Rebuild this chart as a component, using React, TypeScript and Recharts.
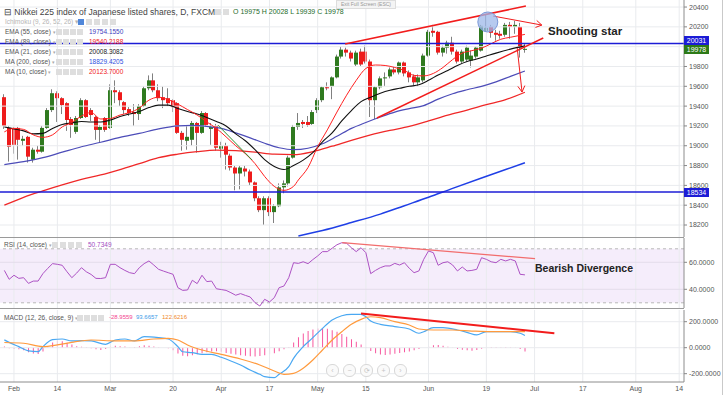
import React from 'react'
import { ComposedChart, Bar, Line, XAxis, YAxis, ReferenceLine, ReferenceArea, ReferenceDot } from 'recharts'

// bar index 0 = Feb 1, one slot per weekday
const FIRST_BAR = -2

const opens = [
  19490, 19180, 19180, 19180, 19050, 19090, 18860, 18960, 18940, 19180,
  19360, 19530, 19480, 19430, 19270, 19140, 19280, 19460, 19360, 19290,
  19160, 19280, 19180, 19560, 19540, 19440, 19370, 19340, 19320, 19400,
  19580, 19660, 19560, 19490, 19480, 19460, 19430, 19130, 19050, 19060,
  19230, 19130, 19330, 19170, 19200, 18970, 19000, 18900, 18780, 18720,
  18770, 18740, 18630, 18470, 18350, 18470, 18330, 18390, 18580, 18620,
  18880, 19190, 19240, 19240, 19220, 19360, 19460, 19590, 19600, 19690,
  19900, 19970, 19940, 19820, 19950, 19950, 19850, 19460, 19590, 19680,
  19700, 19770, 19740, 19840, 19740, 19700, 19640, 19660, 19910, 20160,
  20150, 19940, 19990, 20040, 19950, 19850, 19870, 19860, 19900, 19960,
  20160, 20200, 20140, 20130, 20120, 20220, 20200, 20200, 19975,
]
const highs = [
  19520, 19200, 19190, 19190, 19100, 19100, 18980, 19000, 19200, 19380,
  19570, 19550, 19490, 19440, 19290, 19300, 19480, 19470, 19380, 19300,
  19210, 19290, 19620, 19660, 19560, 19450, 19390, 19420, 19420, 19600,
  19710, 19730, 19620, 19600, 19580, 19470, 19440, 19150, 19200, 19250,
  19240, 19350, 19340, 19230, 19220, 19040, 19030, 18920, 18800, 18800,
  18800, 18760, 18640, 18490, 18490, 18490, 18410, 18620, 18650, 18900,
  19210, 19330, 19260, 19300, 19360, 19480, 19600, 19640, 19700, 19920,
  20000, 19990, 19960, 19960, 19980, 20010, 19870, 19600, 19700, 19740,
  19790, 19800, 19850, 19850, 19760, 19720, 19720, 19930, 20170, 20220,
  20160, 20010, 20060, 20100, 19970, 19970, 20010, 19960, 20000, 20220,
  20320, 20220, 20170, 20160, 20240, 20250, 20260, 20240, 20028,
]
const lows = [
  19170, 18840, 18920, 18860, 19000, 18830, 18830, 18920, 18930, 19170,
  19340, 19240, 19320, 19150, 19080, 19120, 19270, 19280, 19250, 19060,
  19030, 19140, 19170, 19430, 19400, 19320, 19300, 19200, 19260, 19390,
  19560, 19540, 19450, 19380, 19400, 19340, 19120, 18950, 18960, 19000,
  18930, 19120, 19190, 19010, 18950, 18880, 18760, 18750, 18550, 18560,
  18690, 18600, 18440, 18330, 18200, 18290, 18220, 18380, 18520, 18590,
  18870, 19160, 19180, 19190, 19210, 19330, 19440, 19560, 19470, 19680,
  19880, 19900, 19850, 19800, 19800, 19830, 19290, 19270, 19570, 19600,
  19680, 19720, 19720, 19700, 19640, 19600, 19600, 19640, 19900, 20100,
  19920, 19900, 19930, 19920, 19830, 19830, 19850, 19790, 19880, 19950,
  20150, 20090, 20060, 20080, 20100, 20080, 20130, 19890, 19939,
]
const closes = [
  19200, 18990, 19010, 19060, 19070, 18890, 18960, 18940, 19180, 19360,
  19530, 19480, 19410, 19260, 19210, 19280, 19460, 19290, 19310, 19160,
  19190, 19160, 19560, 19540, 19460, 19360, 19330, 19320, 19400, 19580,
  19660, 19560, 19480, 19460, 19430, 19390, 19130, 19060, 19090, 19230,
  19130, 19330, 19210, 19190, 18980, 19000, 18910, 18780, 18720, 18780,
  18740, 18630, 18470, 18350, 18470, 18330, 18390, 18580, 18620, 18880,
  19190, 19230, 19220, 19210, 19340, 19460, 19590, 19580, 19690, 19900,
  19970, 19940, 19880, 19940, 19820, 19850, 19460, 19590, 19680, 19690,
  19770, 19740, 19840, 19730, 19690, 19640, 19690, 19910, 20150, 20140,
  19940, 19990, 20040, 19950, 19850, 19950, 19990, 19910, 19990, 20210,
  20190, 20140, 20120, 20110, 20220, 20200, 20220, 19990, 19978,
]

const rsiValues = [
  54, 47.4, 50.4, 48.1, 48.6, 44.4, 46.1, 46.1, 51.6, 55.5,
  59, 58.5, 57.8, 53, 48.6, 52, 56, 53, 51, 48.1,
  48, 48.6, 58.5, 58.5, 56, 54, 52.3, 51.6, 56, 59,
  61, 58, 54.8, 53.5, 52.3, 51.1, 41.2, 39.2, 39.5, 46.7,
  44.2, 50.4, 45.7, 46.1, 40.4, 39.8, 39.2, 37.5, 35.6, 36.8,
  35.5, 34.3, 30.1, 27.6, 32.6, 30.6, 33.8, 41.2, 42.4, 48.6,
  59.7, 59.2, 60.4, 59, 62, 64.7, 67.9, 67.9, 70.4, 73,
  74.5, 74.1, 70.8, 67.9, 70.8, 67.1, 51.6, 54, 56, 57.3,
  57.3, 59.2, 58, 59.7, 55.6, 52.3, 53.6, 62.2, 68.4, 67.1,
  57.8, 59.7, 60.4, 58, 53.6, 56.5, 53.6, 54, 54.8, 63.4,
  62.2, 60.4, 59.7, 62.2, 61, 62.2, 61, 51.1, 50.7,
]

const macdHist = [
  10, -5, -8, -12, -20, -35, -45, -48, -30, 5,
  40, 55, 50, 38, 25, 12, 8, 4, -5, -12,
  -18, -10, 10, 15, 12, 10, 2, 5, 12, 18,
  15, 10, 4, 0, -5, -20, -45, -62, -65, -58,
  -50, -42, -36, -30, -28, -32, -40, -46, -52, -58,
  -62, -66, -68, -64, -58, -50, -42, -28, -12, 5,
  40, 80, 110, 128, 140, 148, 150, 145, 135, 122,
  105, 85, 65, 45, 25, 5, -25, -42, -52, -56,
  -52, -46, -40, -35, -30, -20, -10, 0, 10, 18,
  20, 15, 8, -2, -10, -16, -20, -24, -18, -8,
  3, 5, 5, 4, 5, 4, 2, -10, -29,
]

// [bar, value]
const ma10Points = [
  [-2, 19140], [0, 19175], [2, 19165], [4, 19110], [6, 19085], [8, 19110], [10, 19190], [12, 19235],
  [14, 19300], [16, 19335], [18, 19270], [20, 19275], [22, 19310], [24, 19335], [26, 19380], [28, 19460],
  [30, 19490], [32, 19465], [34, 19420], [36, 19365], [38, 19310], [40, 19240], [42, 19175], [44, 19090],
  [46, 19000], [48, 18920], [50, 18820], [52, 18690], [54, 18590], [56, 18550], [58, 18590], [59, 18655],
  [61, 18780], [63, 18990], [65, 19160], [67, 19340], [69, 19510], [71, 19660], [73, 19780], [75, 19815],
  [77, 19810], [79, 19790], [81, 19760], [83, 19710], [85, 19705], [87, 19730], [89, 19790], [91, 19870],
  [93, 19935], [95, 19960], [97, 19985], [99, 20030], [101, 20075], [103, 20095], [106, 20124],
]
const ema21Points = [
  [-2, 19190], [0, 19170], [2, 19150], [4, 19120], [6, 19125], [8, 19175], [10, 19215], [12, 19230],
  [14, 19245], [16, 19240], [18, 19240], [20, 19260], [22, 19295], [24, 19320], [26, 19345], [28, 19385],
  [30, 19410], [32, 19410], [34, 19375], [36, 19345], [38, 19320], [40, 19285], [42, 19245], [44, 19200],
  [46, 19120], [48, 19050], [50, 18960], [52, 18860], [54, 18790], [56, 18760], [58, 18800], [60, 18855],
  [62, 18930], [64, 19040], [66, 19130], [68, 19250], [70, 19355], [72, 19445], [74, 19490], [76, 19530],
  [78, 19560], [80, 19580], [82, 19600], [84, 19615], [86, 19660], [88, 19715], [90, 19760], [92, 19810],
  [94, 19850], [96, 19875], [98, 19905], [100, 19935], [103, 19975], [106, 20008],
]
const ema55Points = [
  [-2, 18810], [2, 18840], [6, 18880], [10, 18935], [14, 18990], [18, 19035], [22, 19085], [26, 19125],
  [30, 19170], [34, 19200], [37, 19205], [40, 19195], [43, 19175], [46, 19130], [49, 19080], [52, 19025],
  [55, 18980], [58, 18960], [61, 18975], [64, 19020], [67, 19095], [70, 19175], [73, 19235], [76, 19290],
  [79, 19340], [82, 19375], [85, 19405], [88, 19470], [91, 19525], [94, 19565], [97, 19600], [100, 19645],
  [103, 19700], [106, 19754],
]
const ema89Points = [
  [-2, 18400], [2, 18480], [6, 18545], [10, 18605], [14, 18660], [18, 18705], [22, 18760], [26, 18820],
  [30, 18880], [34, 18915], [38, 18940], [42, 18955], [46, 18950], [50, 18935], [54, 18915], [58, 18910],
  [62, 18940], [66, 18995], [70, 19055], [74, 19110], [78, 19155], [82, 19195], [86, 19250], [90, 19310],
  [94, 19360], [98, 19415], [102, 19465], [106, 19540],
]
const ma200Points = [
  [59, 18090], [64, 18145], [70, 18225], [76, 18310], [81, 18395], [86, 18480], [91, 18570], [97, 18675],
  [102, 18760], [106, 18829],
]
const macdPoints = [
  [-2, 60], [-1, 41], [1, 8], [3, -25], [5, -31], [6, 8], [8, 62], [10, 67], [12, 52], [14, 54], [16, 52],
  [19, 26], [21, 59], [23, 67], [25, 52], [27, 85], [30, 77], [32, 67], [34, 8], [35, -31], [37, -38],
  [39, -51], [41, -51], [43, -74], [45, -102], [47, -133], [49, -172], [51, -205], [52, -223], [54, -231],
  [55, -205], [57, -146], [58, -82], [60, 8], [62, 77], [64, 149], [66, 213], [68, 246], [70, 257],
  [72, 257], [73, 238], [74, 205], [76, 180], [79, 162], [82, 144], [84, 111], [85, 123], [87, 154],
  [89, 154], [92, 136], [94, 118], [96, 98], [98, 123], [101, 123], [103, 123], [105, 111], [106, 94],
]
const signalPoints = [
  [-2, 40], [2, 34], [6, 8], [9, 21], [12, 41], [16, 59], [21, 52], [25, 52], [29, 67], [32, 72],
  [34, 59], [36, 21], [39, -18], [43, -51], [47, -87], [51, -133], [54, -179], [56, -205], [58, -197],
  [60, -158], [62, -95], [64, -18], [66, 59], [68, 123], [70, 180], [72, 218], [74, 238], [76, 231],
  [79, 200], [82, 175], [84, 144], [87, 136], [91, 136], [95, 128], [99, 123], [103, 123], [106, 123],
]

const dateTicks = [0, 9, 20, 33, 43, 53, 63, 73, 86, 98, 108, 118, 129, 138]
const dateLabels = ['Feb', '14', 'Mar', '20', 'Apr', '17', 'May', '15', 'Jun', '19', 'Jul', '17', 'Aug', '14']
const priceGrid = [18200, 18400, 18600, 18800, 19000, 19200, 19400, 19600, 19800, 20000, 20200, 20400]
// 20000 sits under the price tags on the axis
const priceTicks = [18200, 18400, 18600, 18800, 19000, 19200, 19400, 19600, 19800, 20200, 20400]
const rsiTicks = [40, 60]
const macdTicks = [-200, 0, 200]

// hand-drawn analysis marks, in bar / price units
const priceLevels = [20031, 18534]
const priceDrawings = [
  { color: '#f21c1c', width: 1.5, pts: [[68.7, 20027], [106.2, 20410]] },
  { color: '#f21c1c', width: 1.5, pts: [[75.3, 19280], [109.8, 20087]] },
  { color: '#f21c1c', width: 1, pts: [[99.4, 20309], [109.5, 20218]] },
  { color: '#f21c1c', width: 1, pts: [[109.5, 20218], [108.45, 20264]] },
  { color: '#f21c1c', width: 1, pts: [[109.5, 20218], [108.18, 20194]] },
  { color: '#f21c1c', width: 1, pts: [[104.4, 19986], [105.4, 19542]] },
  { color: '#f21c1c', width: 1, pts: [[105.4, 19542], [105.98, 19607]] },
  { color: '#f21c1c', width: 1, pts: [[105.4, 19542], [104.53, 19599]] },
  { color: '#2e8b2e', width: 1, pts: [[42.3, 19209], [49.4, 18856]] },
]
const rsiDrawing = [[68.1, 74.5], [108.1, 62.7]]
const macdDrawing = [[72, 263], [112.1, 111]]

const X_DOMAIN = [-2.9, 139]
const W = 727
const AXIS_W = 43
const FONT = '"Liberation Sans", Arial, sans-serif'
const GRID = '#e9ebee'

const rows: any[] = opens.map((open, i) => ({
  t: FIRST_BAR + i,
  open,
  high: highs[i],
  low: lows[i],
  close: closes[i],
  rsi: rsiValues[i],
  hist: macdHist[i],
}))
const byBar = new Map(rows.map((r) => [r.t, r]))
const addPoints = (key: string, pts: number[][]) =>
  pts.forEach(([t, v]) => {
    const r = byBar.get(t)
    if (r) r[key] = v
  })
addPoints('ma10', ma10Points)
addPoints('ema21', ema21Points)
addPoints('ema55', ema55Points)
addPoints('ema89', ema89Points)
addPoints('ma200', ma200Points)
addPoints('macd', macdPoints)
addPoints('signal', signalPoints)

const Candle = (props: any) => {
  const { x, y, width, height, payload } = props
  if (!payload || height == null) return null
  const { open, close, high, low } = payload
  const top = Math.min(y, y + height)
  const h = Math.abs(height)
  const toY = (v: number) => top + ((high - v) / (high - low)) * h
  const left = Math.round(x + width / 2 - 2)
  const up = close >= open
  const bodyTop = toY(Math.max(open, close))
  const bodyBottom = toY(Math.min(open, close))
  return (
    <g>
      <line x1={left + 1.5} x2={left + 1.5} y1={top} y2={top + h} stroke="#808080" strokeWidth={1} />
      <rect
        x={left}
        y={bodyTop}
        width={4}
        height={Math.max(1, bodyBottom - bodyTop)}
        fill={up ? '#2f7a1f' : '#ee1b1b'}
      />
    </g>
  )
}

const axisTick = { fontSize: 7, fill: '#555', fontFamily: FONT }

const vGrid = dateTicks.map((t) => (
  <ReferenceLine key={'v' + t} x={t} stroke={GRID} strokeWidth={1} ifOverflow="visible" />
))

const seg = (pts: number[][]) => pts.map(([x, y]) => ({ x, y }))

const lineProps = { dot: false, activeDot: false, connectNulls: true, type: 'monotone', isAnimationActive: false } as const

const legendRow = { position: 'absolute', left: 5, fontSize: 6.5, color: '#555', whiteSpace: 'nowrap' } as const
const iconBox = (left: number, top: number, key: string) => (
  <div key={key} style={{ position: 'absolute', left, top, width: 6, height: 6, background: '#dedede' }} />
)

function MainPanel() {
  return (
    <ComposedChart width={W} height={237} data={rows} margin={{ top: 0, right: 0, bottom: 0, left: 0 }}>
      <XAxis type="number" dataKey="t" domain={X_DOMAIN} hide allowDataOverflow />
      <YAxis
        orientation="right"
        width={AXIS_W}
        domain={[18079, 20471]}
        ticks={priceTicks}
        interval={0}
        allowDataOverflow
        tick={axisTick}
        tickSize={3}
        tickMargin={2}
        tickLine={{ stroke: '#888' }}
        axisLine={{ stroke: '#8c8c8c' }}
      />
      {vGrid}
      {priceGrid.map((p) => (
        <ReferenceLine key={'h' + p} y={p} stroke={GRID} strokeWidth={1} />
      ))}
      <Bar dataKey={(d: any) => [d.low, d.high]} barSize={4} shape={<Candle />} isAnimationActive={false} />
      <Line dataKey="ma200" stroke="#1f3fe6" strokeWidth={1.5} {...lineProps} />
      <Line dataKey="ema89" stroke="#f02828" strokeWidth={1.3} {...lineProps} />
      <Line dataKey="ema55" stroke="#4c4cb8" strokeWidth={1.2} {...lineProps} />
      <Line dataKey="ema21" stroke="#111" strokeWidth={1.1} {...lineProps} />
      <Line dataKey="ma10" stroke="#ff2020" strokeWidth={1} {...lineProps} />
      {priceLevels.map((p) => (
        <ReferenceLine key={'lvl' + p} y={p} stroke="#1c1cd6" strokeWidth={1.5} />
      ))}
      {priceDrawings.map((d, i) => (
        <ReferenceLine key={'d' + i} segment={seg(d.pts)} stroke={d.color} strokeWidth={d.width} ifOverflow="visible" />
      ))}
      <ReferenceDot x={98.3} y={20249} r={10} fill="#9db8ea" fillOpacity={0.75} stroke="#7a98d8" ifOverflow="visible" />
    </ComposedChart>
  )
}

function RsiPanel() {
  return (
    <ComposedChart width={W} height={70} data={rows} margin={{ top: 0, right: 0, bottom: 0, left: 0 }}>
      <XAxis type="number" dataKey="t" domain={X_DOMAIN} hide allowDataOverflow />
      <YAxis
        orientation="right"
        width={AXIS_W}
        domain={[26.15, 78]}
        ticks={rsiTicks}
        interval={0}
        allowDataOverflow
        tick={axisTick}
        tickFormatter={(v: number) => v.toFixed(4)}
        tickSize={3}
        tickMargin={2}
        tickLine={{ stroke: '#888' }}
        axisLine={{ stroke: '#8c8c8c' }}
      />
      <ReferenceArea y1={30} y2={70} fill="#9b4fd6" fillOpacity={0.1} stroke="none" />
      {vGrid}
      {rsiTicks.map((p) => (
        <ReferenceLine key={'h' + p} y={p} stroke="#e4dcec" strokeWidth={1} />
      ))}
      <ReferenceLine y={70} stroke="#b8b8b8" strokeDasharray="3 3" />
      <ReferenceLine y={30} stroke="#b8b8b8" strokeDasharray="3 3" />
      <Line dataKey="rsi" stroke="#ad52c4" strokeWidth={1} {...lineProps} type="linear" />
      <ReferenceLine segment={seg(rsiDrawing)} stroke="#f26d6d" strokeWidth={1.3} ifOverflow="visible" />
    </ComposedChart>
  )
}

function MacdPanel() {
  return (
    <ComposedChart width={W} height={88} data={rows} margin={{ top: 3, right: 0, bottom: 0, left: 0 }}>
      <XAxis
        type="number"
        dataKey="t"
        domain={X_DOMAIN}
        allowDataOverflow
        ticks={dateTicks}
        interval={0}
        height={13}
        tick={axisTick}
        tickFormatter={(v: number) => dateLabels[dateTicks.indexOf(v)]}
        tickSize={3}
        tickMargin={1}
        tickLine={false}
        axisLine={{ stroke: '#8c8c8c' }}
      />
      <YAxis
        orientation="right"
        width={AXIS_W}
        domain={[-264, 290]}
        ticks={macdTicks}
        interval={0}
        allowDataOverflow
        tick={axisTick}
        tickFormatter={(v: number) => v.toFixed(4)}
        tickSize={3}
        tickMargin={2}
        tickLine={{ stroke: '#888' }}
        axisLine={{ stroke: '#8c8c8c' }}
      />
      {vGrid}
      {macdTicks.map((p) => (
        <ReferenceLine key={'h' + p} y={p} stroke={GRID} strokeWidth={1} />
      ))}
      <Bar dataKey="hist" fill="#f7569e" barSize={1} isAnimationActive={false} />
      <Line dataKey="macd" stroke="#4aa8f2" strokeWidth={1.2} {...lineProps} />
      <Line dataKey="signal" stroke="#ff9a3d" strokeWidth={1.2} {...lineProps} />
      <ReferenceLine segment={seg(macdDrawing)} stroke="#f21c1c" strokeWidth={2} ifOverflow="visible" />
    </ComposedChart>
  )
}

const priceTag = (top: number, bg: string, text: string) => (
  <div
    style={{
      position: 'absolute', left: 684, top, width: 25, height: 9, background: bg, color: '#fff',
      fontSize: 7, lineHeight: '9px', textAlign: 'center',
    }}
  >
    {text}
  </div>
)

export default function App() {
  const legends = [
    { label: 'EMA (55, close)', value: '19754.1550', color: '#3d3dc0', top: 28 },
    { label: 'EMA (89, close)', value: '19540.2188', color: '#f02020', top: 38 },
    { label: 'EMA (21, close)', value: '20008.3082', color: '#222', top: 48 },
    { label: 'MA (200, close)', value: '18829.4205', color: '#2b4fe0', top: 58 },
    { label: 'MA (10, close)', value: '20123.7000', color: '#f02020', top: 68 },
  ]
  return (
    <div style={{ position: 'absolute', left: 0, top: 0, width: W, height: 395, background: '#fff', fontFamily: FONT, overflow: 'hidden' }}>
      <div style={{ position: 'absolute', left: 0, top: 0 }}>
        <MainPanel />
      </div>
      <div style={{ position: 'absolute', left: 0, top: 237, width: 684, height: 1, background: '#9a9a9a' }} />
      <div style={{ position: 'absolute', left: 0, top: 238 }}>
        <RsiPanel />
      </div>
      <div style={{ position: 'absolute', left: 0, top: 308, width: 684, height: 1, background: '#9a9a9a' }} />
      <div style={{ position: 'absolute', left: 0, top: 307 }}>
        <MacdPanel />
      </div>
      <div style={{ position: 'absolute', left: 722, top: 0, width: 1, height: 395, background: '#c9c9c9' }} />

      {/* header and indicator legends */}
      <div style={{ position: 'absolute', left: 4, top: 7, fontSize: 8.5, color: '#444', whiteSpace: 'nowrap' }}>
        ⊟ Nikkei 225 index of Japanese listed shares, D, FXCM <span style={{ color: '#999', fontSize: 6 }}>▾</span>
      </div>
      {iconBox(215, 9, 'h1')}
      {iconBox(223, 9, 'h2')}
      <div style={{ position: 'absolute', left: 233, top: 8, fontSize: 7, color: '#256b2c', whiteSpace: 'nowrap' }}>
        O 19975 H 20028 L 19939 C 19978
      </div>
      <div style={{ position: 'absolute', left: 336, top: 0, width: 58, height: 7, background: '#f4f4f4', border: '1px solid #ddd', fontSize: 5, lineHeight: '7px', color: '#999', textAlign: 'center' }}>
        Exit Full Screen (ESC)
      </div>
      <div style={{ ...legendRow, top: 18, color: '#b5b5b5' }}>Ichimoku (9, 26, 52, 26) ▾</div>
      <div style={{ position: 'absolute', left: 78, top: 19, width: 6, height: 6, background: '#4f86d9' }} />
      {[86, 94, 102, 110].map((l) => iconBox(l, 19, 'ich' + l))}
      {legends.map((l) => (
        <React.Fragment key={l.label}>
          <div style={{ ...legendRow, top: l.top }}>{l.label} <span style={{ color: '#aaa', fontSize: 5 }}>▾</span></div>
          {[56, 63, 70, 77].map((x) => iconBox(x, l.top + 1, l.label + x))}
          <div style={{ ...legendRow, left: 89, top: l.top, color: l.color }}>{l.value}</div>
        </React.Fragment>
      ))}

      {priceTag(36, '#1c1cd6', '20031')}
      {priceTag(45, '#2d7a17', '19978')}
      {priceTag(188, '#1c1cd6', '18534')}

      <div style={{ position: 'absolute', left: 548, top: 25, fontSize: 11.5, fontWeight: 'bold', color: '#222', whiteSpace: 'nowrap' }}>
        Shooting star
      </div>

      <div style={{ ...legendRow, left: 4, top: 241 }}>RSI (14, close) <span style={{ color: '#aaa', fontSize: 5 }}>▾</span></div>
      {[52, 60, 68, 76].map((x) => iconBox(x, 242, 'rsi' + x))}
      <div style={{ ...legendRow, left: 88, top: 241, color: '#a24cbf' }}>50.7349</div>
      <div style={{ position: 'absolute', left: 535, top: 262, fontSize: 10.5, fontWeight: 'bold', color: '#222', whiteSpace: 'nowrap' }}>
        Bearish Divergence
      </div>

      <div style={{ ...legendRow, left: 4, top: 314 }}>MACD (12, 26, close, 9) <span style={{ color: '#aaa', fontSize: 5 }}>▾</span></div>
      {[77, 84, 91, 98].map((x) => iconBox(x, 315, 'macd' + x))}
      <div style={{ ...legendRow, left: 109, top: 314, fontSize: 6, color: '#f2478f' }}>-28.9559</div>
      <div style={{ ...legendRow, left: 136, top: 314, fontSize: 6, color: '#3b9be8' }}>93.6657</div>
      <div style={{ ...legendRow, left: 162, top: 314, fontSize: 6, color: '#f08a2a' }}>122.6216</div>

      {['‹', '−', '⟳', '+', '›'].map((g, i) => (
        <div
          key={g}
          style={{
            position: 'absolute', left: 326 + i * 17, top: 364, width: 11, height: 11, borderRadius: 6,
            border: '1px solid #d8d8d8', color: '#c4c4c4', fontSize: 7, lineHeight: '11px', textAlign: 'center', background: '#fafafa',
          }}
        >
          {g}
        </div>
      ))}
    </div>
  )
}
